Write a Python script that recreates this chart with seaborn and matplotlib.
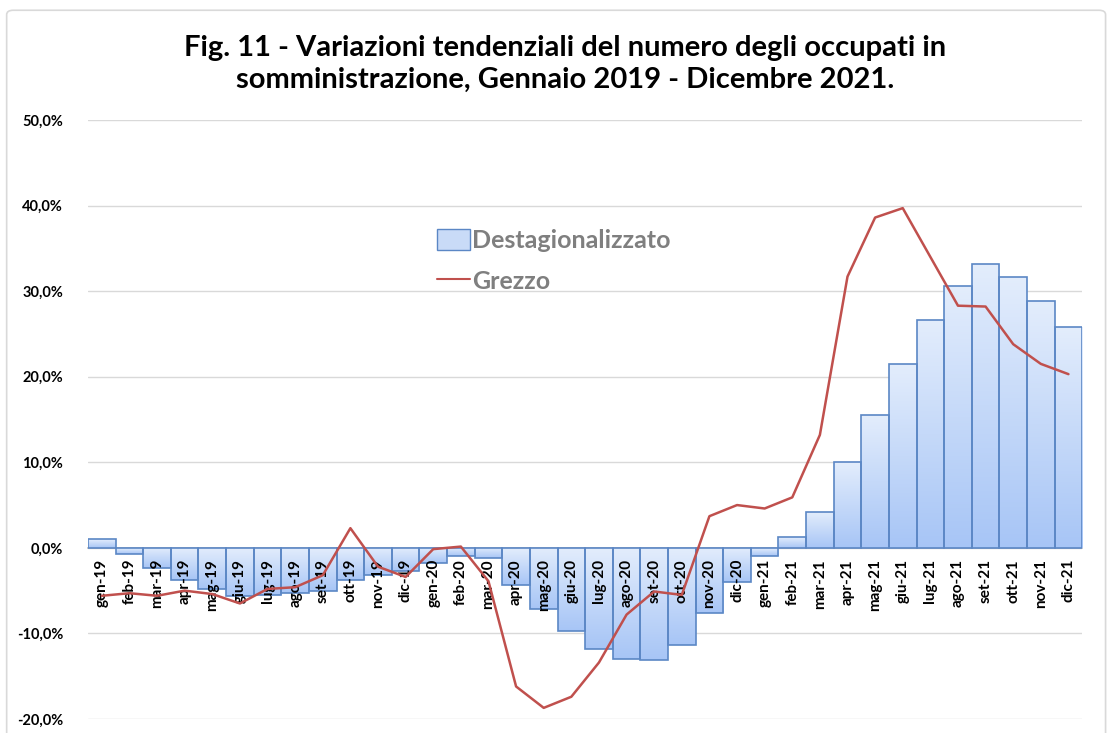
import numpy as np
import pandas as pd
import matplotlib
matplotlib.use("Agg")
import matplotlib.pyplot as plt
import seaborn as sns
from matplotlib.patches import Patch, FancyBboxPatch
from matplotlib.lines import Line2D
from matplotlib.ticker import FuncFormatter, MultipleLocator
from matplotlib.colors import LinearSegmentedColormap

# Mesi (etichette asse x)
mesi = ["gen-19", "feb-19", "mar-19", "apr-19", "mag-19", "giu-19", "lug-19", "ago-19",
        "set-19", "ott-19", "nov-19", "dic-19",
        "gen-20", "feb-20", "mar-20", "apr-20", "mag-20", "giu-20", "lug-20", "ago-20",
        "set-20", "ott-20", "nov-20", "dic-20",
        "gen-21", "feb-21", "mar-21", "apr-21", "mag-21", "giu-21", "lug-21", "ago-21",
        "set-21", "ott-21", "nov-21", "dic-21"]

# Variazioni tendenziali (%), serie destagionalizzata (barre)
destagionalizzato = [1.0, -0.7, -2.4, -3.7, -4.8, -5.6, -5.5, -5.3, -5.0, -3.7, -3.2, -2.7,
                     -1.8, -1.0, -1.2, -4.3, -7.2, -9.7, -11.8, -13.0, -13.1, -11.3, -7.6, -4.0,
                     -0.9, 1.25, 4.2, 10.0, 15.5, 21.5, 26.6, 30.6, 33.2, 31.7, 28.8, 25.8]

# Variazioni tendenziali (%), serie grezza (linea)
grezzo = [-5.6, -5.3, -5.6, -5.0, -5.4, -6.5, -4.8, -4.6, -3.2, 2.3, -2.2, -3.4,
          -0.15, 0.15, -3.9, -16.2, -18.7, -17.4, -13.4, -7.8, -5.1, -5.5, 3.7, 5.0,
          4.6, 5.9, 13.2, 31.7, 38.6, 39.7, 34.0, 28.3, 28.2, 23.8, 21.5, 20.3]

df = pd.DataFrame({"mese": mesi, "destag": destagionalizzato, "grezzo": grezzo})

sns.set_theme(style="white")
plt.rcParams["font.family"] = ["Lato", "DejaVu Sans"]

fig = plt.figure(figsize=(11.1, 7.33), dpi=100)
ax = fig.add_axes([0.0793, 0.0191, 0.8957, 0.8172])

# bordo esterno del grafico
fig.patches.append(FancyBboxPatch((0.006, -0.05), 0.99, 1.036, transform=fig.transFigure,
                                  boxstyle="round,pad=0,rounding_size=0.006",
                                  facecolor="none", edgecolor="#d9d9d9", lw=1.2))

edge_blue = "#5b87c5"
sns.barplot(data=df, x="mese", y="destag", width=1.0, color="#c9dbf7",
            edgecolor=edge_blue, linewidth=1.2, ax=ax, zorder=3)

# riempimento sfumato delle barre (chiaro in alto, più scuro in basso)
grad = LinearSegmentedColormap.from_list("grad", ["#e3edfc", "#a7c5f6"])
gimg = np.linspace(0, 1, 256).reshape(-1, 1)
for p in ax.patches:
    x0, y0 = p.get_x(), p.get_y()
    w, h = p.get_width(), p.get_height()
    ylo, yhi = min(y0, y0 + h), max(y0, y0 + h)
    im = ax.imshow(gimg, cmap=grad, aspect="auto", extent=(x0, x0 + w, ylo, yhi),
                   origin="upper", zorder=3.1)
    im.set_clip_path(p)
    p.set_facecolor("none")
    p.set_zorder(3.2)

sns.lineplot(x=np.arange(len(mesi)), y=df["grezzo"], color="#c0504d", linewidth=1.8,
             ax=ax, zorder=6)

ax.set_xlim(-0.5, len(mesi) - 0.5)
ax.set_ylim(-20, 50)
ax.yaxis.set_major_locator(MultipleLocator(10))
ax.yaxis.set_major_formatter(FuncFormatter(lambda v, _: f"{v:.1f}%".replace(".", ",")))
ax.grid(axis="y", color="#d9d9d9", lw=1.0, zorder=0)
ax.set_axisbelow(True)

for s in ["top", "right", "left"]:
    ax.spines[s].set_visible(False)
ax.spines["bottom"].set_position(("data", 0))
ax.spines["bottom"].set_color("#bfbfbf")
ax.spines["bottom"].set_zorder(2)

ax.set_xlabel("")
ax.set_ylabel("")
ax.tick_params(axis="x", length=0, pad=8, labelsize=11, rotation=90)
ax.tick_params(axis="y", length=0, pad=18, labelsize=10.5)
for lab in ax.get_xticklabels() + ax.get_yticklabels():
    lab.set_fontweight("bold")
    lab.set_color("black")
# etichette mesi sopra le barre (ma sotto la linea)
ax.xaxis.set_zorder(5)

handles = [Patch(facecolor="#c9dbf7", edgecolor=edge_blue, label="Destagionalizzato"),
           Line2D([0], [0], color="#c0504d", lw=1.5, label="Grezzo")]
leg = ax.legend(handles=handles, loc="upper left", bbox_to_anchor=(0.341, 0.835),
                frameon=False, fontsize=18, handlelength=1.3, handleheight=0.9,
                handletextpad=0.1, labelspacing=0.72, borderaxespad=0)
leg.set_zorder(7)
for t in leg.get_texts():
    t.set_color("#7f7f7f")
    t.set_fontweight("bold")

fig.text(0.509, 0.913, "Fig. 11 - Variazioni tendenziali del numero degli occupati in\n"
         "somministrazione, Gennaio 2019 - Dicembre 2021.",
         ha="center", va="center", fontsize=21, fontweight="bold",
         linespacing=1.3, color="black")

fig.savefig("out.png", dpi=100)
